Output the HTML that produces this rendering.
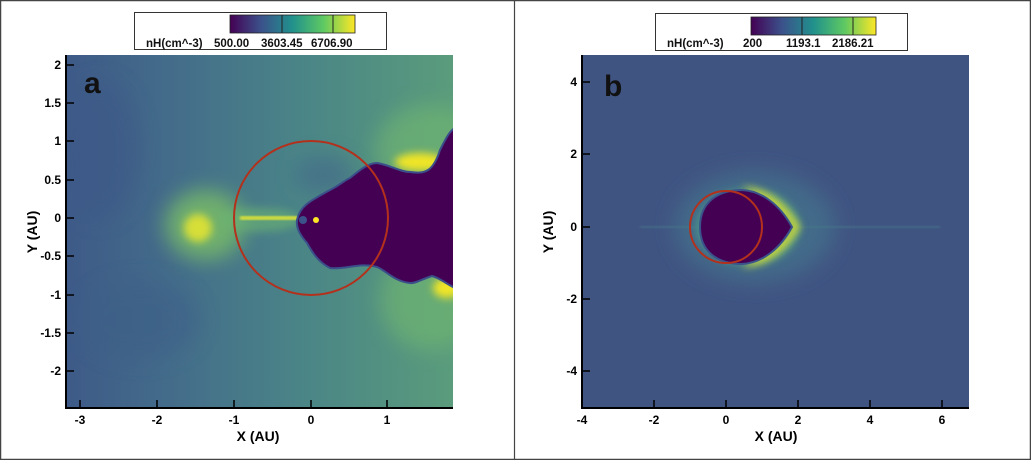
<!DOCTYPE html>
<html><head><meta charset="utf-8"><style>
html,body{margin:0;padding:0;background:#fff;}
svg{display:block;font-family:"Liberation Sans",Arial,sans-serif;}
</style></head><body>
<svg width="1031" height="460" viewBox="0 0 1031 460" xmlns="http://www.w3.org/2000/svg">
<defs>
<linearGradient id="vir" x1="0" x2="1" y1="0" y2="0">
<stop offset="0" stop-color="#440154"/><stop offset="0.25" stop-color="#3b528b"/><stop offset="0.5" stop-color="#21918c"/><stop offset="0.75" stop-color="#5ec962"/><stop offset="1" stop-color="#fde725"/>
</linearGradient>
<linearGradient id="bgA" x1="0" x2="1" y1="0" y2="0">
<stop offset="0" stop-color="#3e5a88"/><stop offset="0.3" stop-color="#446e8a"/><stop offset="0.6" stop-color="#4a8487"/><stop offset="1" stop-color="#5a9c7c"/>
</linearGradient>
<filter id="bl" x="-50%" y="-50%" width="200%" height="200%"><feGaussianBlur stdDeviation="10"/></filter>
<filter id="bl2" x="-50%" y="-50%" width="200%" height="200%"><feGaussianBlur stdDeviation="4"/></filter>
<filter id="bl1"><feGaussianBlur stdDeviation="1.2"/></filter>
<clipPath id="ca"><rect x="66" y="55" width="387" height="353"/></clipPath>
<clipPath id="cb"><rect x="582" y="55" width="387" height="353"/></clipPath>
</defs>
<rect width="1031" height="460" fill="#fff"/>
<rect x="0.5" y="0.5" width="1030" height="459" fill="none" stroke="#444" stroke-width="1.5"/>
<line x1="514.5" y1="0" x2="514.5" y2="460" stroke="#444" stroke-width="1.2"/>

<!-- Panel a -->
<g clip-path="url(#ca)">
<rect x="66" y="55" width="387" height="353" fill="url(#bgA)"/>
<ellipse cx="430" cy="150" rx="55" ry="45" fill="#72b870" filter="url(#bl)" opacity="0.6"/>
<ellipse cx="430" cy="300" rx="50" ry="50" fill="#72b870" filter="url(#bl)" opacity="0.6"/>
<ellipse cx="205" cy="225" rx="40" ry="35" fill="#7abf66" filter="url(#bl)" opacity="0.8"/>
<ellipse cx="198" cy="228" rx="14" ry="14" fill="#d6de38" filter="url(#bl2)"/>
<ellipse cx="260" cy="220" rx="40" ry="12" fill="#6cb472" filter="url(#bl2)" opacity="0.6"/>
<rect x="240" y="216" width="60" height="4" fill="#d8e03a" filter="url(#bl1)"/>
<ellipse cx="140" cy="320" rx="60" ry="40" fill="#3e6088" filter="url(#bl)" opacity="0.6"/>
<ellipse cx="100" cy="150" rx="40" ry="70" fill="#3e5888" filter="url(#bl)" opacity="0.6"/>
<ellipse cx="325" cy="175" rx="30" ry="20" fill="#43688a" filter="url(#bl)" opacity="0.6"/>
<ellipse cx="420" cy="162" rx="25" ry="9" fill="#f0e526" filter="url(#bl2)"/>
<ellipse cx="447" cy="288" rx="14" ry="10" fill="#f0e526" filter="url(#bl2)"/>
<path d="M297,220 C300,205 312,200 330,190 C340,185 345,180 350,178 C360,170 368,163 377,163 C390,165 400,172 410,172 C425,174 433,172 440,150 C445,140 450,130 455,128 L455,288 C448,285 440,278 432,276 C420,280 414,284 410,283 C395,282 385,270 377,267 C360,262 345,270 330,268 C318,262 312,252 307,243 C300,235 296,228 297,220 Z" fill="#440154" stroke="#3b4f8a" stroke-width="2"/>
<circle cx="303" cy="220" r="4" fill="#3b528b"/>
<circle cx="316" cy="220" r="3" fill="#fde725"/>
<circle cx="311" cy="218" r="77" fill="none" stroke="#b3311c" stroke-width="2"/>
</g>
<line x1="66" y1="55" x2="66" y2="409" stroke="#000" stroke-width="2"/>
<line x1="65" y1="408" x2="453" y2="408" stroke="#000" stroke-width="2"/>
<text x="84" y="93" font-size="30" font-weight="bold" fill="#111">a</text>
<g stroke="#000" stroke-width="1.5">
<line x1="80" y1="408" x2="80" y2="400"/><line x1="157" y1="408" x2="157" y2="400"/><line x1="234" y1="408" x2="234" y2="400"/><line x1="311" y1="408" x2="311" y2="400"/><line x1="387" y1="408" x2="387" y2="400"/>
<line x1="66" y1="65" x2="74" y2="65"/><line x1="66" y1="103" x2="74" y2="103"/><line x1="66" y1="141" x2="74" y2="141"/><line x1="66" y1="180" x2="74" y2="180"/><line x1="66" y1="218" x2="74" y2="218"/><line x1="66" y1="256" x2="74" y2="256"/><line x1="66" y1="295" x2="74" y2="295"/><line x1="66" y1="333" x2="74" y2="333"/><line x1="66" y1="371" x2="74" y2="371"/>
</g>
<g font-size="12" font-weight="bold" fill="#000" text-anchor="middle">
<text x="80" y="424">-3</text><text x="157" y="424">-2</text><text x="234" y="424">-1</text><text x="311" y="424">0</text><text x="387" y="424">1</text>
<text x="258" y="441" font-size="14">X (AU)</text>
</g>
<g font-size="12" font-weight="bold" fill="#000" text-anchor="end">
<text x="61" y="69">2</text><text x="61" y="107">1.5</text><text x="61" y="145">1</text><text x="61" y="184">0.5</text><text x="61" y="222">0</text><text x="61" y="260">-0.5</text><text x="61" y="299">-1</text><text x="61" y="337">-1.5</text><text x="61" y="375">-2</text>
</g>
<text transform="translate(37,232) rotate(-90)" font-size="14" font-weight="bold" text-anchor="middle">Y (AU)</text>
<rect x="134.5" y="12.5" width="252" height="37" fill="#fff" stroke="#333"/>
<rect x="230" y="15" width="125" height="18" fill="url(#vir)" stroke="#222" stroke-width="0.8"/>
<line x1="282" y1="15" x2="282" y2="33" stroke="#222"/><line x1="333" y1="15" x2="333" y2="33" stroke="#222"/>
<g font-size="11.5" font-weight="bold" fill="#111"><text x="146" y="47">nH(cm^-3)</text><text x="214" y="47">500.00</text><text x="261" y="47">3603.45</text><text x="311" y="47">6706.90</text></g>

<!-- Panel b -->
<g clip-path="url(#cb)">
<rect x="582" y="55" width="387" height="353" fill="#405482"/>
<ellipse cx="755" cy="227" rx="80" ry="55" fill="#426a89" filter="url(#bl)"/>
<rect x="640" y="226" width="300" height="2" fill="#467a8a" filter="url(#bl1)" opacity="0.7"/>
<ellipse cx="748" cy="227" rx="52" ry="38" fill="#4a9088" filter="url(#bl2)"/>
<path d="M742,187 C768,188 788,205 800,227 C788,249 768,266 742,267 C760,255 780,245 792,227 C780,209 760,199 742,187 Z" fill="#d8e030" filter="url(#bl2)"/>
<path d="M700,227 C700,202 718,190 742,190 C762,191 780,205 792,227 C780,249 762,263 742,264 C718,264 700,252 700,227 Z" fill="#440154" stroke="#3b528b" stroke-width="2"/>
<circle cx="726" cy="227" r="36" fill="none" stroke="#b3311c" stroke-width="2"/>
</g>
<line x1="582" y1="55" x2="582" y2="409" stroke="#000" stroke-width="2"/>
<line x1="581" y1="408" x2="969" y2="408" stroke="#000" stroke-width="2"/>
<text x="604" y="96" font-size="30" font-weight="bold" fill="#111">b</text>
<g stroke="#000" stroke-width="1.5">
<line x1="654" y1="408" x2="654" y2="400"/><line x1="726" y1="408" x2="726" y2="400"/><line x1="798" y1="408" x2="798" y2="400"/><line x1="870" y1="408" x2="870" y2="400"/><line x1="942" y1="408" x2="942" y2="400"/>
<line x1="582" y1="82" x2="590" y2="82"/><line x1="582" y1="154" x2="590" y2="154"/><line x1="582" y1="227" x2="590" y2="227"/><line x1="582" y1="299" x2="590" y2="299"/><line x1="582" y1="371" x2="590" y2="371"/>
</g>
<g font-size="12" font-weight="bold" fill="#000" text-anchor="middle">
<text x="582" y="424">-4</text><text x="654" y="424">-2</text><text x="726" y="424">0</text><text x="798" y="424">2</text><text x="870" y="424">4</text><text x="942" y="424">6</text>
<text x="776" y="441" font-size="14">X (AU)</text>
</g>
<g font-size="12" font-weight="bold" fill="#000" text-anchor="end">
<text x="577" y="86">4</text><text x="577" y="158">2</text><text x="577" y="231">0</text><text x="577" y="303">-2</text><text x="577" y="375">-4</text>
</g>
<text transform="translate(553,232) rotate(-90)" font-size="14" font-weight="bold" text-anchor="middle">Y (AU)</text>
<rect x="655.5" y="13.5" width="252" height="37" fill="#fff" stroke="#333"/>
<rect x="751" y="17" width="125" height="18" fill="url(#vir)" stroke="#222" stroke-width="0.8"/>
<line x1="802" y1="17" x2="802" y2="35" stroke="#222"/><line x1="853" y1="17" x2="853" y2="35" stroke="#222"/>
<g font-size="11.5" font-weight="bold" fill="#111"><text x="667" y="47">nH(cm^-3)</text><text x="743" y="47">200</text><text x="786" y="47">1193.1</text><text x="832" y="47">2186.21</text></g>
</svg>
</body></html>
